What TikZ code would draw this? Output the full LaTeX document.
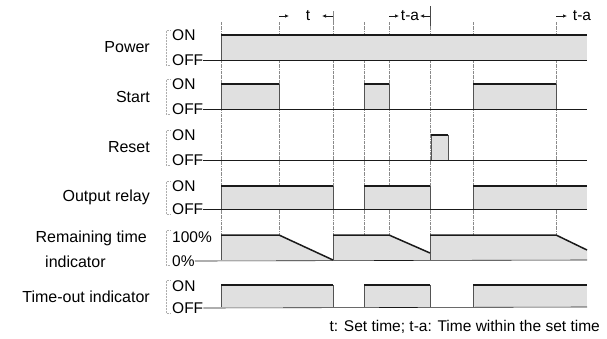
\documentclass[tikz,border=0pt]{standalone}
\usepackage{fontspec}
\setmainfont{Liberation Sans}
\usetikzlibrary{arrows.meta,positioning}
\definecolor{ChartInk}{HTML}{1A1A1A}
\definecolor{ChartFill}{HTML}{E0E0E0}
\definecolor{ChartGuide}{HTML}{8A8A8A}

\begin{document}
\begin{tikzpicture}[x=1pt,y=-1pt,
    lbl/.style={anchor=east,inner sep=0pt,font=\fontsize{16}{18}\selectfont},
    lvl/.style={anchor=west,inner sep=0pt,font=\fontsize{15.5}{18}\selectfont},
    side/.style={ChartInk!75,line width=0.5pt},
    ontop/.style={ChartInk,line width=1.5pt},
    base/.style={ChartInk,line width=0.6pt},
    guide/.style={ChartGuide,densely dash dot,line width=0.4pt},
    brk/.style={ChartGuide!70,densely dotted,line width=0.5pt},
    tarr/.style={-{Latex[length=4pt,width=3.5pt]},ChartInk,line width=0.7pt}
  ]
    \useasboundingbox (0,0) rectangle (607,338);

    % time marks along the top
    \foreach \gx in {221,279,333,364,389,430,473,556}
      \draw[guide] (\gx,22) -- (\gx,235);
    \draw[ChartInk!80,line width=0.5pt] (430,6) -- (430,26);
    \draw[ChartGuide,line width=0.5pt] (333,11) -- (333,22);
    \node[lvl,anchor=center] (tset) at (308,16) {t};
    \node[lvl,anchor=center] (tin1) at (410,16) {t-a};
    \node[lvl,anchor=center] (tin2) at (582,16) {t-a};
    \draw[tarr] (279,16) -- (289,16);
    \draw[tarr] (333,16) -- (322,16);
    \draw[tarr] (389,16) -- (399,16);
    \draw[tarr] (430,16) -- (420,16);
    \draw[tarr] (556,16) -- (567,16);

    % Power
    \node[lbl] (power) at (150,47) {Power};
    \node[lvl] (power-on) at (172,35) {ON};
    \node[lvl] (power-off) at (172,60) {OFF};
    \draw[brk] (170,30) -- (166,30) -- (166,65) -- (170,65);
    \fill[ChartFill] (221,35) rectangle (587,60);
    \draw[base] (power-off.east) -- (587,60);
    \draw[side] (221,60) -- (221,35);
    \draw[ontop] (221,35) -- (587,35);

    % Start
    \node[lbl] (start) at (150,97) {Start};
    \node[lvl] (start-on) at (172,84) {ON};
    \node[lvl] (start-off) at (172,109) {OFF};
    \draw[brk] (170,79) -- (166,79) -- (166,114) -- (170,114);
    \foreach \a/\b in {221/279,364/389,473/556} {
      \fill[ChartFill] (\a,84) rectangle (\b,109);
      \draw[side] (\a,109) -- (\a,84) (\b,84) -- (\b,109);
      \draw[ontop] (\a,84) -- (\b,84);
    }
    \draw[base] (start-off.east) -- (587,109);

    % Reset
    \node[lbl] (reset) at (150,147) {Reset};
    \node[lvl] (reset-on) at (172,135) {ON};
    \node[lvl] (reset-off) at (172,160) {OFF};
    \draw[brk] (170,130) -- (166,130) -- (166,165) -- (170,165);
    \fill[ChartFill] (431,135) rectangle (448,160);
    \draw[side] (431,160) -- (431,135) (448,135) -- (448,160);
    \draw[ontop] (431,135) -- (448,135);
    \draw[base] (reset-off.east) -- (587,160);

    % Output relay
    \node[lbl] (relay) at (150,197) {Output relay};
    \node[lvl] (relay-on) at (172,186) {ON};
    \node[lvl] (relay-off) at (172,209) {OFF};
    \draw[brk] (170,181) -- (166,181) -- (166,214) -- (170,214);
    \foreach \a/\b in {221/333,364/430,473/587} {
      \fill[ChartFill] (\a,186) rectangle (\b,209);
      \draw[side] (\a,209) -- (\a,186);
      \draw[ontop] (\a,186) -- (\b,186);
    }
    \draw[side] (333,186) -- (333,209) (430,186) -- (430,209);
    \draw[base] (relay-off.east) -- (587,209);

    % Remaining time indicator
    \node[lbl] (remain) at (147,238) {Remaining time};
    \node[lvl,font=\fontsize{16}{18}\selectfont] (remain2) at (45,262) {indicator};
    \node[lvl] (remain-on) at (172,237) {100\%};
    \node[lvl] (remain-off) at (172,261) {0\%};
    \draw[brk] (170,230) -- (166,230) -- (166,265) -- (170,265);
    \fill[ChartFill] (221,260) -- (221,235) -- (279,235) -- (333,260) -- cycle;
    \fill[ChartFill] (333,260) -- (333,235) -- (389,235) -- (430,253) -- (430,260) -- cycle;
    \fill[ChartFill] (430,260) -- (430,235) -- (556,235) -- (587,250) -- (587,260) -- cycle;
    \draw[side] (221,260) -- (221,235) (333,260) -- (333,235) (430,260) -- (430,235);
    \draw[ontop] (221,235) -- (279,235) -- (333,260);
    \draw[ontop] (333,235) -- (389,235) -- (430,253);
    \draw[ontop] (430,235) -- (556,235) -- (587,250);
    \draw[base] (remain-off.east) -- (587,260);

    % Time-out indicator
    \node[lbl] (tout) at (150,297) {Time-out indicator};
    \node[lvl] (tout-on) at (172,286) {ON};
    \node[lvl] (tout-off) at (172,308) {OFF};
    \draw[brk] (170,280) -- (166,280) -- (166,313) -- (170,313);
    \foreach \a/\b in {221/333,364/430,473/587} {
      \fill[ChartFill] (\a,285) rectangle (\b,307);
      \draw[side] (\a,307) -- (\a,285);
      \draw[ontop] (\a,285) -- (\b,285);
    }
    \draw[side] (333,285) -- (333,307) (430,285) -- (430,307);
    \draw[base] (tout-off.east) -- (587,307);

    \node[lbl,font=\fontsize{15.5}{18}\selectfont] (note) at (600,327) {t: Set time; t-a: Time within the set time};
  \end{tikzpicture}
\end{document}
